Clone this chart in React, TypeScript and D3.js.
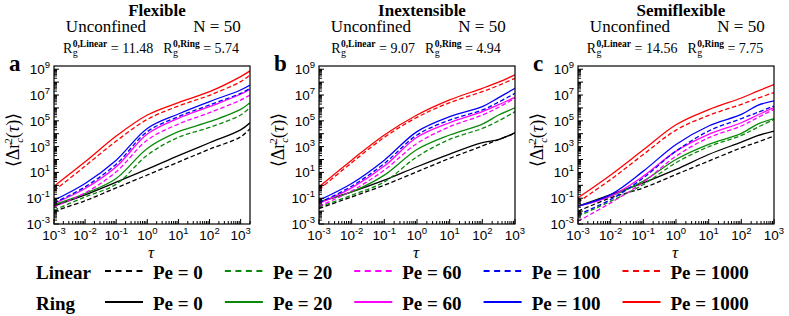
import React, { useRef, useEffect } from 'react';
import * as d3 from 'd3';

const peValues = [0, 20, 60, 100, 1000];
const peColors = ['#000000', '#0a8a0a', '#ff00ff', '#0000ff', '#ff0000'];

const tauFlexible = [1e-3, 1e-2, 1e-1, 1, 10, 100, 1000, 2000];
const tauInextensible = [1e-3, 1e-2, 1e-1, 1, 10, 100, 316, 1000];
const tauSemiflexible = [1e-3, 1e-2, 1e-1, 1, 10, 100, 316, 1000];

// log10 of <Δr_c²(τ)>, one row per Pe (0, 20, 60, 100, 1000)
const flexibleLinear = [
  [-2.0, -1.2, -0.2, 0.8, 1.8, 2.8, 3.75, 4.4],
  [-1.93, -0.9, 0.09, 2.34, 3.72, 4.49, 5.45, 6.04],
  [-1.67, -0.59, 1.05, 3.51, 4.75, 5.63, 6.61, 7.0],
  [-1.36, -0.12, 1.64, 4.16, 5.32, 6.23, 7.13, 7.52],
  [-0.43, 1.49, 3.43, 5.11, 6.15, 6.98, 8.04, 8.56],
];
const flexibleRing = [
  [-1.6, -0.74, 0.25, 1.25, 2.3, 3.3, 4.3, 4.85],
  [-1.49, -0.64, 0.53, 2.86, 4.16, 4.93, 5.89, 6.41],
  [-1.41, -0.25, 1.44, 3.97, 5.19, 6.1, 7.06, 7.45],
  [-1.16, 0.14, 1.95, 4.41, 5.53, 6.49, 7.39, 7.78],
  [-0.07, 1.82, 3.82, 5.45, 6.41, 7.26, 8.43, 8.87],
];
const inextensibleLinear = [
  [-1.8, -0.9, 0.01, 1.05, 2.09, 3.05, 3.55, 4.03],
  [-1.67, -0.77, 0.27, 2.21, 3.56, 4.41, 5.0, 5.71],
  [-1.62, -0.43, 1.18, 3.25, 4.54, 5.45, 6.05, 6.75],
  [-1.36, -0.07, 1.69, 3.9, 5.06, 5.84, 6.45, 7.13],
  [-0.33, 1.75, 3.72, 5.27, 6.41, 7.26, 7.75, 8.3],
];
const inextensibleRing = [
  [-1.28, -0.51, 0.4, 1.44, 2.42, 3.3, 3.55, 4.08],
  [-1.28, -0.51, 0.79, 2.78, 3.9, 4.75, 5.45, 6.0],
  [-1.41, -0.2, 1.49, 3.72, 4.85, 5.71, 6.25, 6.82],
  [-1.16, 0.14, 1.95, 4.16, 5.32, 6.1, 6.8, 7.52],
  [-0.12, 1.95, 3.9, 5.45, 6.62, 7.52, 8.0, 8.56],
];
const semiflexibleLinear = [
  [-2.01, -0.97, -0.2, 0.84, 1.88, 2.91, 3.35, 3.82],
  [-2.4, -1.23, 0.06, 1.75, 2.99, 3.87, 4.5, 5.11],
  [-2.79, -1.36, 0.24, 2.26, 3.69, 4.6, 5.25, 5.89],
  [-2.27, -1.1, 0.58, 2.65, 4.21, 5.17, 5.65, 6.15],
  [-1.31, 0.45, 2.39, 4.28, 5.42, 6.28, 6.75, 7.19],
];
const semiflexibleRing = [
  [-1.62, -0.72, 0.19, 1.23, 2.39, 3.35, 3.85, 4.21],
  [-1.62, -0.84, 0.32, 2.0, 3.17, 4.03, 4.75, 5.17],
  [-1.62, -0.84, 0.71, 2.65, 3.95, 4.85, 5.45, 6.02],
  [-1.62, -0.72, 1.1, 3.17, 4.6, 5.5, 6.2, 6.54],
  [-0.97, 0.8, 2.75, 4.69, 5.86, 6.77, 7.3, 7.81],
];

const xTickExps = [-3, -2, -1, 0, 1, 2, 3];
const yTickExps = [-3, -1, 1, 3, 5, 7, 9];

const panels = [
  { letter: 'a', title: 'Flexible', rgLinear: '11.48', rgRing: '5.74', tau: tauFlexible, tauMax: 2000, linear: flexibleLinear, ring: flexibleRing },
  { letter: 'b', title: 'Inextensible', rgLinear: '9.07', rgRing: '4.94', tau: tauInextensible, tauMax: 1000, linear: inextensibleLinear, ring: inextensibleRing },
  { letter: 'c', title: 'Semiflexible', rgLinear: '14.56', rgRing: '7.75', tau: tauSemiflexible, tauMax: 1000, linear: semiflexibleLinear, ring: semiflexibleRing },
];

const W = 789;
const H = 316;
const panelLeft = [54, 319, 578];
const panelWidth = 196;
const plotTop = 66;
const plotBottom = 224;
const serif = "'Liberation Serif', 'Times New Roman', serif";
const sans = "'Liberation Sans', Arial, sans-serif";

const App = () => {
  const ref = useRef<SVGSVGElement>(null);

  useEffect(() => {
    const svg = d3.select(ref.current);
    svg.selectAll('*').remove();

    const y = d3.scaleLog().domain([1e-3, Math.pow(10, 9.25)]).range([plotBottom, plotTop]);

    panels.forEach((p, pi) => {
      const left = panelLeft[pi];
      const right = left + panelWidth;
      const cx = (left + right) / 2;
      const x = d3.scaleLog().domain([1e-3, p.tauMax]).range([left, right]);
      const g = svg.append('g');

      // headers
      const tc = cx + 5;
      g.append('text').attr('x', tc).attr('y', 15.5).attr('text-anchor', 'middle')
        .attr('font-family', serif).attr('font-weight', 'bold').attr('font-size', 17).text(p.title);
      g.append('text').attr('x', tc - 51).attr('y', 32).attr('text-anchor', 'middle')
        .attr('font-family', serif).attr('font-size', 17).text('Unconfined');
      g.append('text').attr('x', tc + 60).attr('y', 32).attr('text-anchor', 'middle')
        .attr('font-family', serif).attr('font-size', 17).text('N = 50');

      // Rg line
      const rg = g.append('g');
      let px = 0;
      const rgPart = (sup: string, val: string) => {
        const r = rg.append('text').attr('x', px).attr('y', 53).attr('font-family', serif)
          .attr('font-size', 14).text('R');
        px += (r.node() as SVGTextElement).getComputedTextLength() + 0.5;
        const s = rg.append('text').attr('x', px).attr('y', 46.5).attr('font-family', serif)
          .attr('font-size', 9.5).attr('font-weight', 'bold').text(sup);
        rg.append('text').attr('x', px).attr('y', 56).attr('font-family', serif)
          .attr('font-size', 10).text('g');
        px += (s.node() as SVGTextElement).getComputedTextLength();
        const v = rg.append('text').attr('x', px).attr('y', 53).attr('font-family', serif)
          .attr('font-size', 14).attr('xml:space', 'preserve').text(' = ' + val);
        px += (v.node() as SVGTextElement).getComputedTextLength();
      };
      rgPart('0,Linear', p.rgLinear);
      px += 10;
      rgPart('0,Ring', p.rgRing);
      rg.attr('transform', `translate(${tc - 6 - px / 2},0)`);

      // panel letter
      g.append('text').attr('x', left - 45).attr('y', 71).attr('font-family', serif)
        .attr('font-weight', 'bold').attr('font-size', 23).text(p.letter);

      // curves
      const clipId = `clip-${p.letter}`;
      svg.append('clipPath').attr('id', clipId).append('rect')
        .attr('x', left).attr('y', plotTop).attr('width', panelWidth).attr('height', plotBottom - plotTop);
      const line = d3.line<[number, number]>()
        .x(d => x(d[0]))
        .y(d => y(d[1]))
        .curve(d3.curveCatmullRom.alpha(0.5));
      const curves = g.append('g').attr('clip-path', `url(#${clipId})`);
      const drawSet = (rows: number[][], dashed: boolean) => {
        rows.forEach((row, i) => {
          const pts = row.map((v, j) => [p.tau[j], Math.pow(10, v)] as [number, number]);
          curves.append('path').attr('d', line(pts)).attr('fill', 'none')
            .attr('stroke', peColors[i]).attr('stroke-width', 1.3)
            .attr('stroke-dasharray', dashed ? '4.5,2.5' : null);
        });
      };
      drawSet(p.ring, false);
      drawSet(p.linear, true);

      // ticks
      const ticks = g.append('g').attr('stroke', '#000').attr('stroke-width', 1);
      for (let e = -3; e <= 9; e++) {
        for (let m = 1; m <= 9; m++) {
          const v = m * Math.pow(10, e);
          if (v > Math.pow(10, 9.25)) continue;
          const len = m === 1 ? 5 : 3;
          ticks.append('line').attr('x1', left).attr('x2', left + len)
            .attr('y1', y(v)).attr('y2', y(v));
        }
      }
      for (let e = -3; e <= 3; e++) {
        for (let m = 1; m <= 9; m++) {
          const v = m * Math.pow(10, e);
          if (v > p.tauMax) continue;
          const len = m === 1 ? 5 : 3;
          ticks.append('line').attr('x1', x(v)).attr('x2', x(v))
            .attr('y1', plotBottom).attr('y2', plotBottom - len);
        }
      }

      // frame
      g.append('rect').attr('x', left).attr('y', plotTop).attr('width', panelWidth)
        .attr('height', plotBottom - plotTop).attr('fill', 'none').attr('stroke', '#000').attr('stroke-width', 1.2);

      // tick labels
      xTickExps.forEach(e => {
        const t = g.append('text').attr('x', x(Math.pow(10, e))).attr('y', 239.5)
          .attr('text-anchor', 'middle').attr('font-family', sans).attr('font-size', 13.5);
        t.append('tspan').text('10');
        t.append('tspan').attr('dy', -6).attr('font-size', 9.5).text(String(e));
      });
      yTickExps.forEach(e => {
        const t = g.append('text').attr('x', left - 4).attr('y', y(Math.pow(10, e)) + 5)
          .attr('text-anchor', 'end').attr('font-family', sans).attr('font-size', 13.5);
        t.append('tspan').text('10');
        t.append('tspan').attr('dy', -6).attr('font-size', 9.5).text(String(e));
      });

      // axis labels
      g.append('text').attr('x', cx - 1).attr('y', 258).attr('text-anchor', 'middle')
        .attr('font-family', serif).attr('font-style', 'italic').attr('font-size', 17).text('τ');
      const yl = g.append('text').attr('transform', `translate(${left - 35},140) rotate(-90)`)
        .attr('text-anchor', 'middle').attr('font-family', serif).attr('font-size', 18);
      yl.append('tspan').text('⟨Δr');
      yl.append('tspan').attr('dy', 4).attr('font-size', 11).attr('font-style', 'italic').text('c');
      yl.append('tspan').attr('dx', -6).attr('dy', -11).attr('font-size', 11).text('2');
      yl.append('tspan').attr('dy', 7).text('(');
      yl.append('tspan').attr('font-style', 'italic').text('τ');
      yl.append('tspan').text(')⟩');
    });

    // legend
    const rows = [
      { label: 'Linear', dashed: true, y: 271 },
      { label: 'Ring', dashed: false, y: 302 },
    ];
    const lg = svg.append('g');
    rows.forEach(r => {
      lg.append('text').attr('x', 36).attr('y', r.y + 8).attr('font-family', serif)
        .attr('font-weight', 'bold').attr('font-size', 19).text(r.label);
    });
    let lx = 105;
    peValues.forEach((pe, i) => {
      let w = 0;
      rows.forEach(r => {
        lg.append('line').attr('x1', lx).attr('x2', lx + 38).attr('y1', r.y).attr('y2', r.y)
          .attr('stroke', peColors[i]).attr('stroke-width', 2.2)
          .attr('stroke-dasharray', r.dashed ? '6,4.5' : null);
        const t = lg.append('text').attr('x', lx + 48).attr('y', r.y + 8).attr('font-family', serif)
          .attr('font-weight', 'bold').attr('font-size', 19).text(`Pe = ${pe}`);
        w = Math.max(w, (t.node() as SVGTextElement).getComputedTextLength());
      });
      lx += 48 + w + 22;
    });
  }, []);

  return (
    <svg ref={ref} width={W} height={H} style={{ position: 'absolute', left: 0, top: 0, background: '#fff' }} />
  );
};

export default App;
